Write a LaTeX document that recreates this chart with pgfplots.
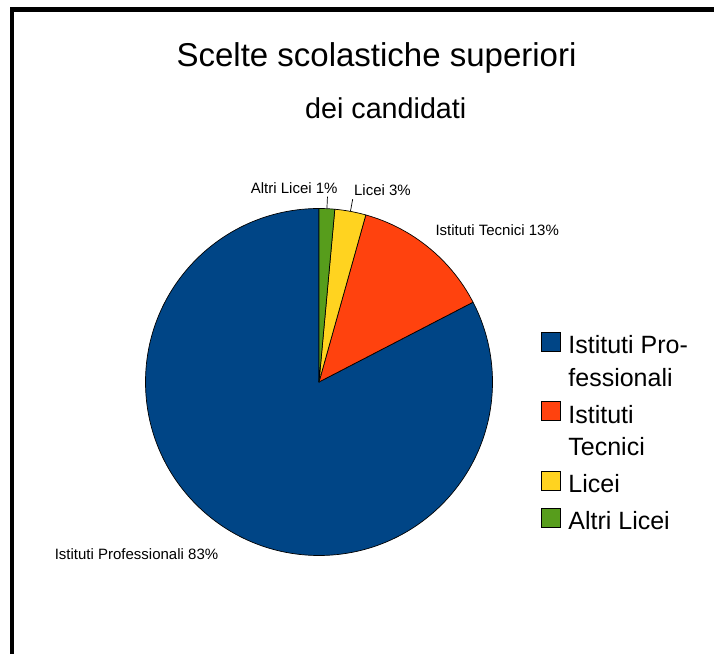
\documentclass[border=0pt]{standalone}
\usepackage{fontspec}
\setmainfont{Liberation Sans}
\usepackage{pgfplots}
\usepackage{pgfplotstable}
\pgfplotsset{compat=1.18}
\definecolor{cProf}{HTML}{004586}
\definecolor{cTec}{HTML}{FF420E}
\definecolor{cLic}{HTML}{FFD320}
\definecolor{cAlt}{HTML}{579D1C}

% candidates per type of school (counter-clockwise from the top)
\pgfplotstableread{
name value
Professionali 57
Tecnici 9
Licei 2
Altri 1
}\piedata

\begin{document}
\begin{tikzpicture}
\useasboundingbox (0bp,0bp) rectangle (714bp,654bp);
% frame
\draw[line width=4.5bp] (12bp,-10bp) -- (12bp,644.5bp) -- (730bp,644.5bp);
% titles
\node[anchor=base west, inner sep=0pt, font=\fontsize{33bp}{40bp}\selectfont] at (176.4bp,587.3bp) {Scelte scolastiche superiori};
\node[anchor=base west, inner sep=0pt, font=\fontsize{28.7bp}{34bp}\selectfont] at (305bp,535.7bp) {dei candidati};
% angles from the table
\pgfplotstablegetelem{0}{value}\of\piedata\edef\vA{\pgfplotsretval}
\pgfplotstablegetelem{1}{value}\of\piedata\edef\vB{\pgfplotsretval}
\pgfplotstablegetelem{2}{value}\of\piedata\edef\vC{\pgfplotsretval}
\pgfplotstablegetelem{3}{value}\of\piedata\edef\vD{\pgfplotsretval}
\pgfmathsetmacro\tot{\vA+\vB+\vC+\vD}
\pgfmathsetmacro\aA{90}
\pgfmathsetmacro\aB{\aA+360*(\vA/\tot)}
\pgfmathsetmacro\aC{\aB+360*(\vB/\tot)}
\pgfmathsetmacro\aD{\aC+360*(\vC/\tot)}
\pgfmathsetmacro\aE{\aD+360*(\vD/\tot)}
\pgfmathsetmacro\mC{(\aC+\aD)/2}
\pgfmathsetmacro\mD{(\aD+\aE)/2}
\begin{axis}[
  x=1bp, y=1bp,
  xmin=-180, xmax=180, ymin=-180, ymax=180,
  hide axis, clip=false,
  anchor=origin, at={(319bp,272bp)},
  legend image code/.code={\draw[#1] (0bp,2.5bp) rectangle (19.3bp,21.5bp);},
  legend style={at={(axis cs:221.7,50.3)}, anchor=north west, draw=none, fill=none,
    inner sep=0pt, outer sep=0pt, row sep=15bp, column sep=7.7bp,
    font=\fontsize{25bp}{32.5bp}\selectfont,
    cells={anchor=base west},
    nodes={inner sep=0pt, outer sep=0pt, text depth=, anchor=base west}},
]
\filldraw[fill=cProf, draw=black, line width=0.7bp, line join=round]
  (axis cs:0,0) -- ++(\aA:173.5bp) arc[start angle=\aA, end angle=\aB, radius=173.5bp] -- cycle;
\filldraw[fill=cTec, draw=black, line width=0.7bp, line join=round]
  (axis cs:0,0) -- ++(\aB:173.5bp) arc[start angle=\aB, end angle=\aC, radius=173.5bp] -- cycle;
\filldraw[fill=cLic, draw=black, line width=0.7bp, line join=round]
  (axis cs:0,0) -- ++(\aC:173.5bp) arc[start angle=\aC, end angle=\aD, radius=173.5bp] -- cycle;
\filldraw[fill=cAlt, draw=black, line width=0.7bp, line join=round]
  (axis cs:0,0) -- ++(\aD:173.5bp) arc[start angle=\aD, end angle=\aE, radius=173.5bp] -- cycle;
% leader lines
\draw[black, line width=0.7bp] (axis cs:0,0) ++(\mD:174bp) -- ++(\mD:11.5bp);
\draw[black, line width=0.7bp] (axis cs:0,0) ++(\mC:174bp) -- ++(\mC:12bp);
% data labels
\node[anchor=base west, inner sep=0pt, font=\fontsize{15bp}{18bp}\selectfont] at (axis cs:116.3,146) {Istituti Tecnici 13\%};
\node[anchor=base west, inner sep=0pt, font=\fontsize{15bp}{18bp}\selectfont] at (axis cs:-68.3,188.5) {Altri Licei 1\%};
\node[anchor=base west, inner sep=0pt, font=\fontsize{15bp}{18bp}\selectfont] at (axis cs:34.9,186) {Licei 3\%};
\node[anchor=base west, inner sep=0pt, font=\fontsize{15bp}{18bp}\selectfont] at (axis cs:-264.4,-178) {Istituti Professionali 83\%};
% legend
\addlegendimage{fill=cProf, draw=black, line width=0.7bp}
\addlegendentry{\vtop{\hbox{Istituti Pro-}\hbox{fessionali}}}
\addlegendimage{fill=cTec, draw=black, line width=0.7bp}
\addlegendentry{\vtop{\hbox{Istituti}\hbox{Tecnici}}}
\addlegendimage{fill=cLic, draw=black, line width=0.7bp}
\addlegendentry{Licei}
\addlegendimage{fill=cAlt, draw=black, line width=0.7bp}
\addlegendentry{Altri Licei}
\end{axis}
\end{tikzpicture}
\end{document}
